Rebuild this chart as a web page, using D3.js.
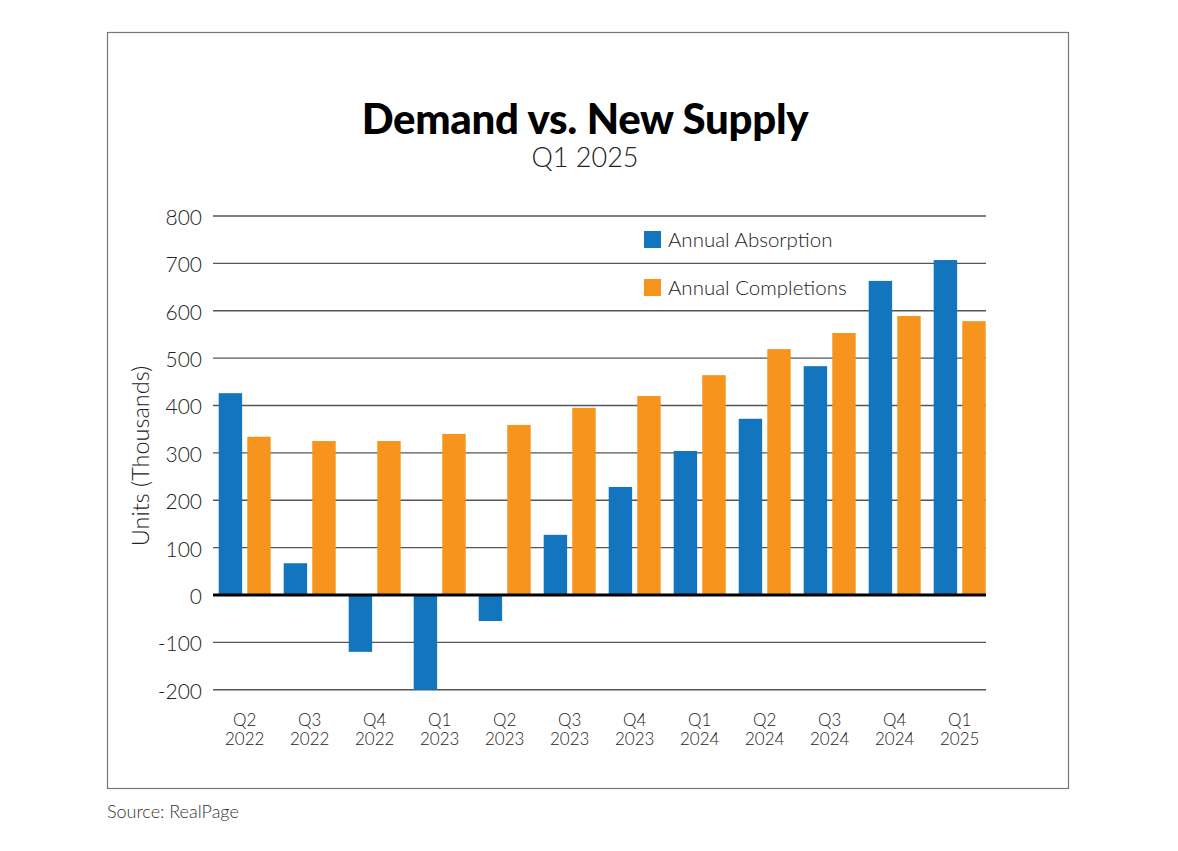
<!DOCTYPE html>
<html>
<head>
<meta charset="utf-8">
<script src="https://cdn.jsdelivr.net/npm/d3@7"></script>
<style>
  body { margin: 0; background: #fff; }
  svg text { font-family: Lato, "Open Sans", sans-serif; fill: #222; }
</style>
</head>
<body>
<svg id="chart" width="1178" height="851"></svg>
<script>
// data (thousands of units)
var quarters = ['Q2', 'Q3', 'Q4', 'Q1', 'Q2', 'Q3', 'Q4', 'Q1', 'Q2', 'Q3', 'Q4', 'Q1'];
var years = ['2022', '2022', '2022', '2023', '2023', '2023', '2023', '2024', '2024', '2024', '2024', '2025'];
var absorption = [426, 67, -120, -200, -55, 127, 228, 304, 372, 483, 663, 707];
var completions = [334, 325, 325, 340, 359, 395, 420, 464, 519, 553, 589, 578];
var seriesNames = ['Annual Absorption', 'Annual Completions'];
var seriesColors = ['#1275bd', '#f7941e'];
var yTicks = [800, 700, 600, 500, 400, 300, 200, 100, 0, -100, -200];

var svg = d3.select('#chart');

// outer frame
svg.append('rect')
   .attr('x', 107.5).attr('y', 32.5)
   .attr('width', 961).attr('height', 756)
   .attr('fill', 'none')
   .attr('stroke', '#777')
   .attr('stroke-width', 1.2);

svg.append('text')
   .attr('x', 585).attr('y', 134)
   .attr('text-anchor', 'middle')
   .style('font-size', '42px')
   .style('font-weight', 900)
   .style('fill', '#000')
   .style('letter-spacing', '-0.3px')
   .text('Demand vs. New Supply');

svg.append('text')
   .attr('x', 585).attr('y', 167)
   .attr('text-anchor', 'middle')
   .style('font-size', '27px')
   .style('font-weight', 300)
   .text('Q1 2025');

var keys = quarters.map(function(q, i){ return q + ' ' + years[i]; });

var x = d3.scaleBand()
          .domain(keys)
          .range([212.2, 992.2])
          .paddingInner(0.2)
          .paddingOuter(0.1);

var xs = d3.scaleBand()
           .domain(seriesNames)
           .range([0, x.bandwidth()])
           .paddingInner(0.18);

var y = d3.scaleLinear()
          .domain([-200, 800])
          .range([689.75, 216]);

var g = svg.append('g');

// gridlines
g.selectAll('.grid').data(yTicks.filter(function(d){ return d !== 0; }))
 .enter().append('line')
 .attr('class', 'grid')
 .attr('x1', 213).attr('x2', 986)
 .attr('y1', function(d){ return y(d); })
 .attr('y2', function(d){ return y(d); })
 .attr('stroke', '#555')
 .attr('stroke-width', 1.3);

// tick labels on the left (plain hyphen for negatives, like the original)
var yAxis = d3.axisLeft(y)
              .tickValues(yTicks)
              .tickSize(0)
              .tickPadding(0)
              .tickFormat(function(d){ return String(d); });

var ya = g.append('g')
          .attr('transform', 'translate(202,0)')
          .call(yAxis);
ya.select('.domain').remove();
ya.selectAll('text')
  .style('font-size', '21px')
  .style('font-weight', 300)
  .attr('fill', '#222')
  .attr('dy', '0.4em');

// bars
var groups = g.selectAll('.grp').data(keys)
              .enter().append('g')
              .attr('class', 'grp')
              .attr('transform', function(d){ return 'translate(' + x(d) + ',0)'; });

groups.append('rect')
      .attr('x', xs(seriesNames[0]))
      .attr('width', xs.bandwidth())
      .attr('y', function(d, i){ return y(Math.max(0, absorption[i])); })
      .attr('height', function(d, i){ return Math.abs(y(absorption[i]) - y(0)); })
      .attr('fill', seriesColors[0]);

groups.append('rect')
      .attr('x', xs(seriesNames[1]))
      .attr('width', xs.bandwidth())
      .attr('y', function(d, i){ return y(Math.max(0, completions[i])); })
      .attr('height', function(d, i){ return Math.abs(y(completions[i]) - y(0)); })
      .attr('fill', seriesColors[1]);

// zero line
g.append('line')
 .attr('x1', 213).attr('x2', 986)
 .attr('y1', y(0)).attr('y2', y(0))
 .attr('stroke', '#000')
 .attr('stroke-width', 3);

// category labels, two lines each
var xa = g.append('g')
          .attr('transform', 'translate(0,' + 690 + ')')
          .call(d3.axisBottom(x).tickSize(0).tickFormat(''));
xa.select('.domain').remove();

xa.selectAll('.tick').each(function(d, i){
    var t = d3.select(this).append('text')
              .attr('text-anchor', 'middle')
              .attr('fill', '#222')
              .style('font-size', '17px')
              .style('font-weight', 300);
    t.append('tspan').attr('x', 0).attr('y', 36).text(quarters[i]);
    t.append('tspan').attr('x', 0).attr('y', 55).text(years[i]);
});

// y-axis title
svg.append('text')
   .attr('transform', 'translate(149,456) rotate(-90)')
   .attr('text-anchor', 'middle')
   .style('font-size', '23.5px')
   .style('font-weight', 300)
   .text('Units (Thousands)');

// legend
var legend = svg.selectAll('.leg').data(seriesNames)
                .enter().append('g')
                .attr('class', 'leg')
                .attr('transform', function(d, i){ return 'translate(644,' + (231 + i * 48) + ')'; });
legend.append('rect')
      .attr('width', 17).attr('height', 17)
      .attr('fill', function(d, i){ return seriesColors[i]; });
legend.append('text')
      .attr('x', 24).attr('y', 16)
      .style('font-size', '20.5px')
      .style('font-weight', 300)
      .text(function(d){ return d; });

svg.append('text')
   .attr('x', 107).attr('y', 818)
   .style('font-size', '18px')
   .style('font-weight', 300)
   .style('fill', '#333')
   .text('Source: RealPage');
</script>
</body>
</html>
